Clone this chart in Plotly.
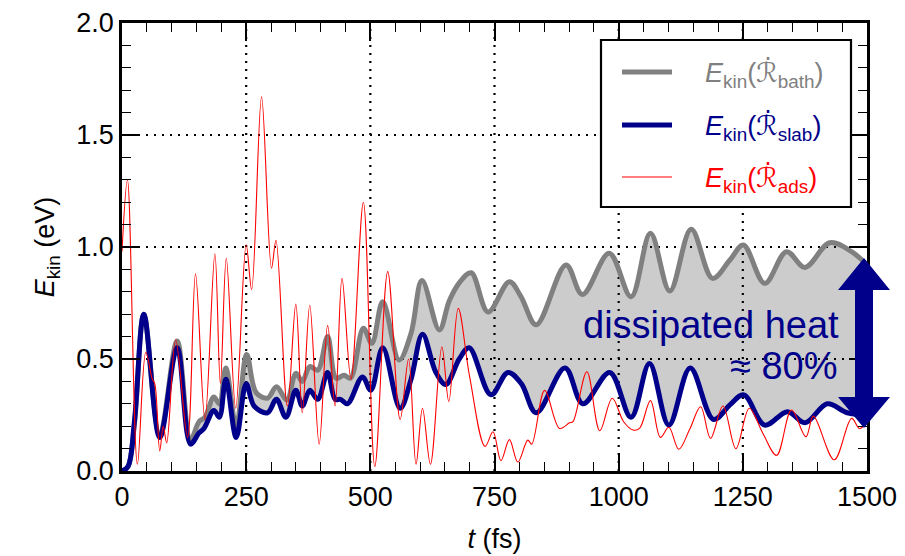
import plotly.graph_objects as go

# ---------------- data ----------------
t_bath = [0, 12, 25, 44, 76, 111, 138, 155, 167, 185, 196, 209, 230, 251, 270, 293, 311, 332,
          350, 363, 378, 394, 414, 431, 447, 460, 486, 503, 525, 558, 582, 604, 639, 659, 679,
          703, 737, 780, 803, 834, 894, 927, 981, 1025, 1064, 1103, 1146, 1189, 1224, 1251,
          1294, 1338, 1375, 1425, 1469, 1500]
e_bath = [0.0, 0.02, 0.21, 0.70, 0.16, 0.58, 0.14, 0.22, 0.24, 0.33, 0.30, 0.46, 0.20, 0.52,
          0.35, 0.325, 0.376, 0.317, 0.436, 0.40, 0.466, 0.45, 0.60, 0.414, 0.428, 0.414, 0.637,
          0.57, 0.756, 0.496, 0.615, 0.85, 0.63, 0.76, 0.84, 0.885, 0.71, 0.845, 0.78, 0.653,
          0.92, 0.788, 0.972, 0.778, 1.061, 0.804, 1.079, 0.86, 0.942, 1.009, 0.838, 0.979,
          0.909, 1.019, 0.979, 0.92]

t_slab = [0, 12, 25, 44, 76, 111, 138, 155, 165, 185, 196, 209, 230, 250, 266, 293, 311, 330,
          350, 363, 378, 394, 414, 429, 440, 454, 484, 501, 525, 560, 582, 605, 632, 652, 679,
          699, 743, 777, 804, 834, 892, 928, 982, 1025, 1062, 1101, 1144, 1191, 1224, 1252,
          1294, 1340, 1375, 1420, 1460, 1500]
e_slab = [0.0, 0.02, 0.22, 0.70, 0.15, 0.55, 0.12, 0.17, 0.19, 0.27, 0.24, 0.41, 0.15, 0.39,
          0.29, 0.26, 0.32, 0.24, 0.36, 0.29, 0.36, 0.32, 0.44, 0.32, 0.32, 0.30, 0.42, 0.36,
          0.55, 0.28, 0.41, 0.61, 0.44, 0.386, 0.50, 0.55, 0.34, 0.44, 0.39, 0.26, 0.46, 0.30,
          0.44, 0.24, 0.48, 0.205, 0.46, 0.23, 0.295, 0.34, 0.205, 0.265, 0.215, 0.30, 0.26,
          0.25]

t_ads = [0, 11, 31, 48, 61, 66, 76, 83, 90, 108, 132, 148, 167, 187, 198, 210, 229, 250, 261,
         281, 301, 310, 333, 350, 363, 378, 397, 414, 429, 443, 461, 486, 509, 535, 560, 577,
         592, 605, 621, 644, 658, 677, 700, 731, 747, 763, 780, 797, 817, 825, 851, 881, 901,
         908, 936, 962, 987, 1010, 1029, 1042, 1064, 1084, 1101, 1121, 1143, 1165, 1185, 1210,
         1236, 1263, 1290, 1318, 1348, 1377, 1392, 1434, 1469, 1485, 1500]
e_ads = [0.98, 1.30, 0.03, 0.53, 0.41, 0.39, 0.09, 0.20, 0.125, 0.585, 0.15, 0.88, 0.23, 0.97,
         0.39, 0.95, 0.28, 1.01, 0.81, 1.67, 0.905, 1.03, 0.29, 0.745, 0.26, 0.74, 0.12, 0.65,
         0.29, 0.86, 0.41, 1.20, 0.02, 0.89, 0.23, 0.50, 0.03, 0.28, 0.03, 0.555, 0.31, 0.726,
         0.42, 0.11, 0.175, 0.046, 0.14, 0.04, 0.138, 0.12, 0.36, 0.19, 0.215, 0.22, 0.443,
         0.18, 0.325, 0.22, 0.183, 0.19, 0.314, 0.15, 0.195, 0.097, 0.186, 0.287, 0.146, 0.29,
         0.10, 0.28, 0.17, 0.07, 0.272, 0.153, 0.245, 0.05, 0.235, 0.19, 0.22]

x_ticks = [0, 250, 500, 750, 1000, 1250, 1500]
y_ticks = [0.0, 0.5, 1.0, 1.5, 2.0]
grid_x = [250, 500, 750, 1000, 1250]
grid_y = [0.5, 1.0, 1.5]

R_DOT = '<span style="font-family:DejaVu Sans">ℛ̇</span>'
legend_labels = [
    "<i>E</i><sub>kin</sub>(" + R_DOT + "<sub>bath</sub>)",
    "<i>E</i><sub>kin</sub>(" + R_DOT + "<sub>slab</sub>)",
    "<i>E</i><sub>kin</sub>(" + R_DOT + "<sub>ads</sub>)",
]
annotation_lines = ["dissipated heat", "≈ 80%"]

# ---------------- styling ----------------
C_BATH = "#808080"
C_SLAB = "#00008b"
C_ADS = "#ff0000"
C_FILL = "#cccccc"
FONT = "Liberation Sans, Arial, Helvetica, sans-serif"

W, H = 905, 556
L, R, T, B = 122, 867, 23, 471  # plot area in pixels


def px(x):
    return (x - L) / (R - L)


def py(y):
    return (B - y) / (B - T)


fig = go.Figure()

# fill between slab (lower) and bath (upper)
fig.add_trace(go.Scatter(x=t_slab, y=e_slab, mode="lines",
                         line=dict(width=0, shape="spline", smoothing=1.0),
                         showlegend=False, hoverinfo="skip"))
fig.add_trace(go.Scatter(x=t_bath, y=e_bath, mode="lines",
                         line=dict(width=0, shape="spline", smoothing=1.0),
                         fill="tonexty", fillcolor=C_FILL,
                         showlegend=False, hoverinfo="skip"))

# dotted grid drawn over the fill
gx, gy = [], []
for v in grid_x:
    gx += [v, v, None]
    gy += [y_ticks[0], y_ticks[-1], None]
for v in grid_y:
    gx += [x_ticks[0], x_ticks[-1], None]
    gy += [v, v, None]
fig.add_trace(go.Scatter(x=gx, y=gy, mode="lines",
                         line=dict(color="black", width=2.2, dash="2px,6px"),
                         showlegend=False, hoverinfo="skip"))

fig.add_trace(go.Scatter(x=t_bath, y=e_bath, mode="lines", name=legend_labels[0],
                         line=dict(color=C_BATH, width=5, shape="spline", smoothing=1.0),
                         showlegend=False))
fig.add_trace(go.Scatter(x=t_slab, y=e_slab, mode="lines", name=legend_labels[1],
                         line=dict(color=C_SLAB, width=5, shape="spline", smoothing=1.0),
                         showlegend=False))
fig.add_trace(go.Scatter(x=t_ads, y=e_ads, mode="lines", name=legend_labels[2],
                         line=dict(color=C_ADS, width=1.1, shape="spline", smoothing=1.0),
                         showlegend=False))

shapes = []
annotations = []

# manual legend box
shapes.append(dict(type="rect", xref="paper", yref="paper",
                   x0=px(601), x1=px(851), y0=py(207), y1=py(40),
                   fillcolor="white", line=dict(color="black", width=2.2), layer="above"))
leg_y = [72, 125, 177]
leg_colors = [C_BATH, C_SLAB, C_ADS]
leg_widths = [5, 5, 1.1]
for yy, col, lw, lab in zip(leg_y, leg_colors, leg_widths, legend_labels):
    shapes.append(dict(type="line", xref="paper", yref="paper",
                       x0=px(622), x1=px(672), y0=py(yy), y1=py(yy),
                       line=dict(color=col, width=lw), layer="above"))
    annotations.append(dict(xref="paper", yref="paper", x=px(703), y=py(yy + 2),
                            xanchor="left", yanchor="middle", showarrow=False,
                            text=lab, font=dict(family=FONT, size=27, color=col)))

# double-headed arrow
cx, hs, hh = 864, 9, 26
pts = [(cx, 258), (cx + hh, 290), (cx + hs, 290), (cx + hs, 397), (cx + hh, 397),
       (cx, 428), (cx - hh, 397), (cx - hs, 397), (cx - hs, 290), (cx - hh, 290)]
path = "M " + " L ".join(f"{px(a):.5f},{py(b):.5f}" for a, b in pts) + " Z"
shapes.append(dict(type="path", xref="paper", yref="paper", path=path,
                   fillcolor=C_SLAB, line=dict(color=C_SLAB, width=0), layer="above"))

annotations.append(dict(xref="paper", yref="paper", x=px(841), y=py(325),
                        xanchor="right", yanchor="middle", showarrow=False,
                        text=annotation_lines[0], font=dict(family=FONT, size=38, color=C_SLAB)))
annotations.append(dict(xref="paper", yref="paper", x=px(839), y=py(366),
                        xanchor="right", yanchor="middle", showarrow=False,
                        text=annotation_lines[1], font=dict(family=FONT, size=38, color=C_SLAB)))

axis_common = dict(ticks="inside", ticklen=18, tickwidth=1.5, tickcolor="black",
                   showline=True, linewidth=2.5, linecolor="black", mirror="ticks",
                   showgrid=False, zeroline=False, automargin=False,
                   tickfont=dict(family=FONT, size=27, color="black"))

fig.update_layout(
    width=W, height=H,
    margin=dict(l=L, r=W - R, t=T, b=H - B, pad=0, autoexpand=False),
    plot_bgcolor="white", paper_bgcolor="white",
    shapes=shapes, annotations=annotations,
    showlegend=False,
    xaxis=dict(range=[x_ticks[0], x_ticks[-1]], tickvals=x_ticks,
               minor=dict(dtick=50, ticks="inside", ticklen=9, tickwidth=1.3, tickcolor="black"),
               title=dict(text="<i>t</i> (fs)", font=dict(family=FONT, size=27, color="black"),
                          standoff=18),
               **axis_common),
    yaxis=dict(range=[y_ticks[0], y_ticks[-1]], tickvals=y_ticks, tickformat=".1f",
               minor=dict(dtick=0.1, ticks="inside", ticklen=9, tickwidth=1.3, tickcolor="black"),
               title=dict(text="<i>E</i><sub>kin</sub> (eV)",
                          font=dict(family=FONT, size=27, color="black"), standoff=14),
               **axis_common),
)

fig.write_html("out.html", config={"displayModeBar": False},
               post_script="document.body.style.margin='0px';document.body.style.overflow='hidden';")
